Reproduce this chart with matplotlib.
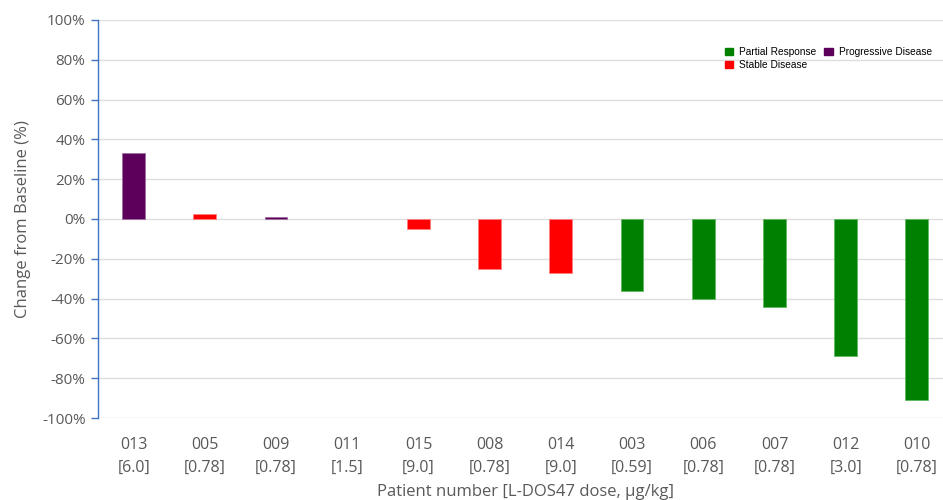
import numpy as np
import matplotlib.pyplot as plt
from matplotlib.patches import Patch

patients = ["013", "005", "009", "011", "015", "008", "014", "003", "006", "007", "012", "010"]
doses = ["6.0", "0.78", "0.78", "1.5", "9.0", "0.78", "9.0", "0.59", "0.78", "0.78", "3.0", "0.78"]
change = [33, 2.5, 1, 0, -5, -25, -27, -36, -40, -44, -69, -91]
response = ["PD", "SD", "PD", "SD", "SD", "SD", "SD", "PR", "PR", "PR", "PR", "PR"]

colors = {"PR": "#008000", "SD": "#ff0000", "PD": "#5c005c"}
edges = {"PR": "#5fb85f", "SD": "#ff8080", "PD": "#a070a0"}
names = {"PR": "Partial Response", "SD": "Stable Disease", "PD": "Progressive Disease"}

plt.rcParams['font.family'] = ['Open Sans', 'DejaVu Sans']
txt = "#595959"

fig = plt.figure(figsize=(9.43, 5), dpi=100)
ax = fig.add_axes([0.104, 0.164, 0.906, 0.796])

x = np.arange(len(patients))
ax.bar(x, change, width=0.32,
       color=[colors[r] for r in response],
       edgecolor=[edges[r] for r in response],
       linewidth=[0.6 if v != 0 else 0 for v in change], zorder=3)

ax.set_xlim(-0.5, len(patients) - 0.5)
ax.set_ylim(-100, 100)
ax.set_yticks(np.arange(-100, 101, 20))
ax.set_yticklabels([f"{v}%" for v in range(-100, 101, 20)], color=txt, fontsize=11)
ax.set_xticks(x)
ax.set_xticklabels([f"{p}\n[{d}]" for p, d in zip(patients, doses)],
                   color=txt, fontsize=11.5, linespacing=1.5)
ax.tick_params(axis='x', length=0, pad=14)
ax.tick_params(axis='y', color="#4472c4", length=5, width=1, pad=4)

ax.grid(axis='y', color="#dedede", linewidth=1, zorder=0)
for s in ["top", "right", "bottom"]:
    ax.spines[s].set_visible(False)
ax.spines["left"].set_color("#4472c4")
ax.spines["left"].set_linewidth(1)

ax.set_ylabel("Change from Baseline (%)", color=txt, fontsize=12, labelpad=8)
ax.set_xlabel("Patient number [L-DOS47 dose, \u00b5g/kg]", color=txt, fontsize=12, labelpad=6)

handles = [Patch(facecolor=colors[k], edgecolor=colors[k], label=names[k]) for k in ["PR", "SD", "PD"]]
ax.legend(handles=handles, ncol=2, loc="upper left", bbox_to_anchor=(0.723, 0.955),
          frameon=False, handlelength=0.8, handleheight=0.8,
          handletextpad=0.6, columnspacing=0.8, labelspacing=0.3,
          prop={'family': ['Liberation Sans', 'DejaVu Sans'], 'size': 7.3})

fig.savefig("out.png", dpi=100)
